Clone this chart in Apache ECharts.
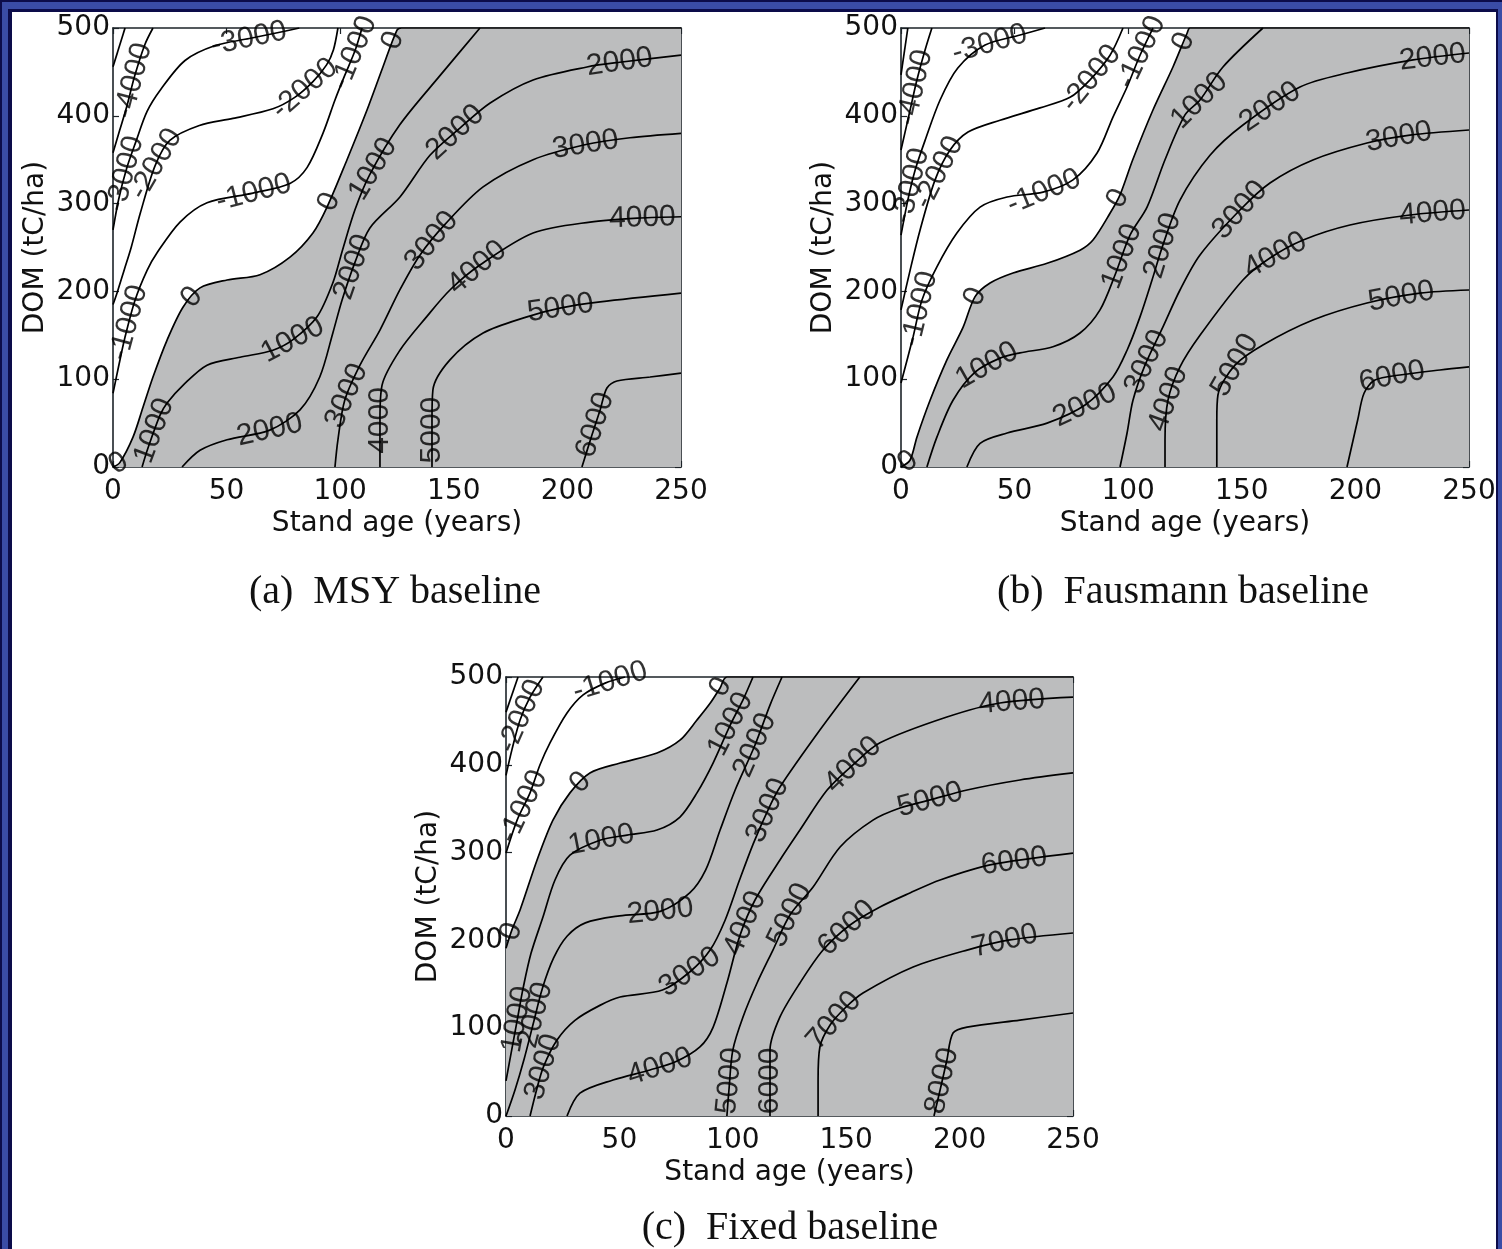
<!DOCTYPE html>
<html style="height: 100%">
<head>
    <meta charset="utf-8">
    <style>
        body { margin: 0; overflow: hidden; background: #0c0c4a; }
        .band { position: absolute; }
    </style>
</head>
<body>
<div class="band" style="left:2px;top:2px;width:1500px;height:1300px;background:#3a4ca6"></div>
<div class="band" style="left:8px;top:9px;width:1490px;height:1300px;background:#0c0c4a"></div>
<div class="band" style="left:12px;top:12px;width:1484px;height:1300px;background:#ffffff"></div>
<div id="container" style="position:absolute;left:0;top:0;width:1502px;height:1249px"></div>
<script type="text/javascript" src="https://cdn.jsdelivr.net/npm/echarts@6.0.0/dist/echarts.min.js"></script>
<script type="text/javascript">
    // (a) MSY baseline: zero contour (edge of the grey area), other contours, label spots [level, age, DOM]
    var msyZero = [[0,0],[3,5],[8.8,34],[13.2,68],[17.6,102.5],[23.8,144.6],[30.8,182],[38.3,204],[50.2,213],[64.7,219],[77.9,239],[88,266.5],[94.2,296],[103,350],[111.8,406.6],[118.8,455.6],[125,497.7],[127,500],[250,500]];
    var msyContours = [
        [-5000, [[0,456],[5.3,500]]],
        [-4000, [[0,358],[3,384],[6,410],[9.5,445],[14,481],[17.6,500]]],
        [-3000, [[0,270],[2.5,305],[6,340],[10,370],[15,405],[21,430],[31.7,463],[45,480],[60,488],[75,496],[82,500]]],
        [-2000, [[0,185],[2,200],[5,225],[8,250],[12,289],[18.5,343],[25,372],[38,389],[52.8,397],[70.4,408],[80,421],[88,439],[94,458],[97,475],[99,500]]],
        [-1000, [[0,84],[2.5,115],[5.3,148],[9.7,190],[15,224],[19.4,244],[29.5,279],[41.4,301],[61.6,312],[77.9,323],[85.4,341],[92.4,380],[97.7,418],[102,446],[106.5,474],[109.6,500]]],
        [1000, [[12.8,0],[15.4,21.6],[20.7,59],[23.8,73],[30.8,93],[41.4,116],[55.9,125],[70.4,133],[79.2,145],[89.8,171],[96.8,210],[101,247],[106.5,293],[113,333],[126.3,390],[144,446],[161.5,500]]],
        [2000, [[30.4,0],[38.3,19],[50.2,31],[69,42],[82.3,65],[91,102.5],[96.8,153],[100.8,190],[106.5,233],[113,272],[126.3,307.5],[139.5,355],[152.7,386],[166,414.6],[184.9,440.8],[208.6,455.6],[223,461],[250,469]]],
        [3000, [[97.7,0],[99,31],[102,76],[108.7,116],[117.5,156],[126.3,202],[135,241],[146,276],[162.9,319],[184.9,350],[207.7,367],[227.5,375],[250,380]]],
        [4000, [[117.5,0],[117.5,53.5],[118.4,93],[126.3,133],[138,171],[148.3,201.6],[161.5,230],[184.9,266.5],[210,279],[232,283.6],[250,285]]],
        [5000, [[140.4,0],[140.4,53.5],[140.8,87.7],[148.3,122],[162.9,152.6],[182.2,171],[196.7,181],[214.4,188],[250,198]]],
        [6000, [[206.4,0],[210.8,36.4],[214.4,65],[217.4,90],[221.8,98],[236.4,102.5],[250,107]]]
    ];
    var msyLabels = [
        [0,2,6],[0,34,195],[0,97,300],[0,124,485],
        [1000,17.5,42],[1000,79,145],[1000,114,340],
        [2000,69,42],[2000,105.5,228],[2000,150,383],[2000,223,461],
        [3000,102,82],[3000,140,258],[3000,208,367],
        [4000,118,53],[4000,160,228],[4000,233,284],
        [5000,140.5,42],[5000,197,181],
        [6000,212,48],
        [-1000,6,165],[-1000,62,312],[-1000,106,472],
        [-2000,19,345],[-2000,84,432],
        [-3000,7,333],[-3000,60,486],
        [-4000,9,440]
    ];

    // (b) Fausmann baseline
    var fausZero = [[0,0],[4,8],[7,34],[12.8,76],[20.2,122],[27.3,159],[32.6,194],[39.2,209.6],[49.3,221],[64.3,232],[78.8,247],[84.5,258.5],[92,289],[96.4,310],[102,350],[110.9,406.6],[119.7,455.6],[125.9,494],[127.2,500],[250,500]];
    var fausContours = [
        [-5000, [[0,446.5],[3,500]]],
        [-4000, [[0,361],[4,406.6],[7,440.8],[10.6,475],[13.6,500]]],
        [-3000, [[0,264],[3,304],[6.2,338],[10.6,372],[17.2,418],[25,454.4],[37,480.6],[52.4,492],[63.4,500]]],
        [-2000, [[0,179],[4,224],[8.4,270],[15,327],[21.6,361],[29.5,381.5],[43.6,395],[61.2,409],[74.4,421],[83.2,441],[92,469],[97.7,500]]],
        [-1000, [[0,95.7],[5.3,148],[9.2,190],[15.8,228],[24.6,266.5],[34.8,296],[46.7,307.5],[62.5,313],[75.7,327],[86.3,357.6],[93.3,398.6],[99.5,432.8],[105.2,469],[110.9,500]]],
        [1000, [[11.4,0],[15.8,34],[22.9,76],[32.6,108],[43.6,124],[52.4,130],[66.9,137],[78.8,152.6],[87.6,179],[94.2,218.7],[100.8,264],[108.3,296],[116.2,350],[125,401],[131.6,418],[141.7,455.6],[159.3,500]]],
        [2000, [[29,0],[34.8,27],[46.7,38.7],[64.3,50],[81,70.6],[93.3,102.5],[99.5,133],[105.2,171],[110.5,213],[115.3,253],[122.8,304],[136,355],[150.5,389.5],[175.6,432.8],[196.3,448.7],[225.4,463.6],[250,471.5]]],
        [3000, [[96.4,0],[99.5,38.7],[102.1,76],[107.4,116],[115.3,159.5],[122.8,201.6],[131.6,241.5],[149.2,292.7],[162.4,323.5],[181.3,349.7],[205.1,369],[224,378],[250,383.8]]],
        [4000, [[116.2,0],[116.2,30.8],[117.5,76],[122.8,114],[131.6,150],[150.5,213],[162.4,238],[177,258.5],[197.6,275.6],[224,287],[250,292.7]]],
        [5000, [[139,0],[139,53.5],[139.5,82],[147,116],[159.3,139],[181.3,167.4],[205.1,186.8],[228.4,198],[250,201.6]]],
        [6000, [[196.3,0],[198.5,25],[201,53.5],[203.8,84],[208.6,99],[219.6,104.8],[237.2,110.5],[250,114]]]
    ];
    var fausLabels = [
        [0,3,6],[0,32,195],[0,96,305],[0,124,485],
        [1000,38,115],[1000,97,240],[1000,131,418],
        [2000,81,70],[2000,114,253],[2000,162,412],[2000,234,466],
        [3000,108,120],[3000,149,293],[3000,219,378],
        [4000,118,77],[4000,165,240],[4000,234,289],
        [5000,147,116],[5000,220,197],
        [6000,216,104],
        [-1000,8,180],[-1000,63,313],[-1000,106,472],
        [-2000,17,335],[-2000,84,442],
        [-3000,5,320],[-3000,39,482],
        [-4000,6.5,432]
    ];

    // (c) Fixed baseline
    var fixedZero = [[0,191],[2.6,212],[6.2,234.6],[13.7,291.6],[20.7,337],[28.2,368],[37,390.7],[50.3,402],[66.6,413.4],[76.7,428],[84.2,451],[90,470],[94.4,487.5],[97.4,500],[250,500]];
    var fixedContours = [
        [-3000, [[0,460],[5.3,500]]],
        [-2000, [[0,388],[2.6,417],[6.2,451],[10.6,477],[16.3,500]]],
        [-1000, [[0,299.5],[4.9,337],[10.6,368],[15,400],[19.4,425],[26.9,459],[34,479.6],[43.7,493],[52.5,500]]],
        [1000, [[0,40],[2.5,75],[5,110],[7.5,145],[11,185],[16.3,226.6],[21.6,268.8],[28.2,297],[41.4,314],[53.4,320],[66.6,325.7],[76.7,340.5],[84.2,368],[91.3,402],[98.8,445],[104.5,474],[108.9,500]]],
        [2000, [[0,0],[4,30],[8,65],[12,105],[16,145],[21,180],[27,205],[35,220],[50,228],[68,233],[81,254],[88,280],[94.4,325.7],[101,371],[109.8,422.6],[116.4,468],[121.7,500]]],
        [3000, [[10.6,0],[13.5,30],[16.5,56],[22.5,86.6],[30.4,109],[41.4,126],[50.3,135.5],[69,143.5],[81,164],[90,189],[96.6,223],[103,269],[109,310],[115.5,348.5],[120.8,374.7],[138.4,439.6],[156,500]]],
        [4000, [[26.9,0],[32.6,26],[47.2,41],[63.5,52.4],[75,62],[85.5,78.6],[91.3,101],[97.4,151.5],[103.2,206],[109.8,246],[120.8,291.6],[129.6,325.7],[141.5,371],[153,400],[164.9,425],[194.4,454.4],[217.8,470.4],[250,477]]],
        [5000, [[97.4,0],[98.3,29.6],[100,75],[104.5,112.8],[110.7,151.5],[117.7,189],[125.2,229],[135.4,260.8],[147.3,306.4],[161.8,337],[173.7,350.8],[187,360],[203.3,371.3],[226.6,382.7],[250,390.7]]],
        [6000, [[116.4,0],[116.4,29.6],[116.4,75],[120.8,112.8],[129.6,151.5],[139.8,189],[151.7,217.5],[164.9,238],[178.1,254],[191.4,268.8],[213.4,286],[250,299.5]]],
        [7000, [[137.6,0],[137.6,41],[138.4,78.6],[142.9,103.6],[149.5,123],[157.4,140],[179.5,169.7],[203.3,189],[222.2,200.5],[250,208.4]]],
        [8000, [[188.7,0],[191.4,29.6],[194.4,63.8],[197.1,94.5],[203.3,101.3],[226.6,109.3],[250,117.3]]]
    ];
    var fixedLabels = [
        [0,2.5,210],[0,32,382],[0,95,488],
        [-1000,8,352],[-1000,46,494],
        [-2000,7,455],
        [1000,5,110],[1000,42,314],[1000,100,445],
        [2000,13,115],[2000,68,233],[2000,110,422],
        [3000,16.5,56],[3000,81,164],[3000,115.5,348],
        [4000,68,55],[4000,105,220],[4000,153,400],[4000,223,472],
        [5000,98.5,40],[5000,125,229],[5000,187,360],
        [6000,116.4,40],[6000,150,215],[6000,224,290],
        [7000,145,108],[7000,220,199],
        [8000,192.5,40]
    ];

    var captions = ['(a)  MSY baseline', '(b)  Fausmann baseline', '(c)  Fixed baseline'];

    var dom = document.getElementById("container");
    var myChart = echarts.init(dom);

    var panels = [
        {zero: msyZero, lines: msyContours, labels: msyLabels},
        {zero: fausZero, lines: fausContours, labels: fausLabels},
        {zero: fixedZero, lines: fixedContours, labels: fixedLabels}
    ];
    var boxes = [
        {left: 113, top: 28, width: 568, height: 439},
        {left: 901, top: 28, width: 568, height: 439},
        {left: 506, top: 677, width: 567, height: 439}
    ];
    var captionPos = [[395, 592], [1183, 592], [790, 1228]];

    var ink = '#111111';
    var axisInk = '#1c2328';
    var grey = '#bcbdbe';
    var sans = 'DejaVu Sans';

    var grids = [], xAxes = [], yAxes = [], series = [], fillIndex = [];

    function frameAxis(i, pos, isX) {
        return {
            gridIndex: i, type: 'value', position: pos,
            min: 0, max: isX ? 250 : 500, interval: isX ? 50 : 100,
            axisLine: {show: true, onZero: false, lineStyle: {color: axisInk, width: 1.6}},
            axisTick: {show: true, inside: true, length: 6, lineStyle: {color: axisInk, width: 1.2}},
            axisLabel: {show: false},
            splitLine: {show: false}
        };
    }

    boxes.forEach(function (b, i) {
        grids.push({left: b.left, top: b.top, width: b.width, height: b.height, containLabel: false, outerBoundsMode: 'none'});

        var bx = frameAxis(i, 'bottom', true);
        bx.axisLabel = {show: true, color: ink, fontSize: 28, fontFamily: sans, margin: 11};
        bx.name = 'Stand age (years)';
        bx.nameLocation = 'middle';
        bx.nameGap = 43;
        bx.nameTextStyle = {color: ink, fontSize: 28, fontFamily: sans};
        xAxes.push(bx, frameAxis(i, 'top', true));

        var ly = frameAxis(i, 'left', false);
        ly.axisLabel = {show: true, color: ink, fontSize: 28, fontFamily: sans, margin: 3};
        ly.name = 'DOM (tC/ha)';
        ly.nameLocation = 'middle';
        ly.nameGap = 63;
        ly.nameTextStyle = {color: ink, fontSize: 28, fontFamily: sans};
        yAxes.push(ly, frameAxis(i, 'right', false));

        var p = panels[i];
        fillIndex[i] = series.length;
        // grey where the value is positive: area under the zero contour
        series.push({
            type: 'line', xAxisIndex: 2 * i, yAxisIndex: 2 * i,
            data: p.zero, smooth: 0.3, symbol: 'none', silent: true,
            lineStyle: {color: '#000', width: 1.7},
            areaStyle: {color: grey, opacity: 1},
            z: 2
        });
        p.lines.forEach(function (c) {
            series.push({
                type: 'line', xAxisIndex: 2 * i, yAxisIndex: 2 * i,
                data: c[1], smooth: 0.3, symbol: 'none', silent: true,
                lineStyle: {color: '#000', width: 1.7},
                z: 3
            });
        });
    });

    var option = {
        animation: false,
        grid: grids,
        xAxis: xAxes,
        yAxis: yAxes,
        series: series,
        graphic: captions.map(function (t, i) {
            return {
                type: 'text', x: captionPos[i][0], y: captionPos[i][1], silent: true,
                style: {
                    text: t, fill: ink, font: '40px "Liberation Serif"',
                    textAlign: 'center', textVerticalAlign: 'middle',
                    align: 'center', verticalAlign: 'middle'
                }
            };
        })
    };
    myChart.setOption(option);

    // put each label on its contour and turn it along the line
    function placeLabel(i, pts, x, y) {
        var finder = {seriesIndex: fillIndex[i]};
        var P = pts.map(function (d) { return myChart.convertToPixel(finder, d); });
        var q = myChart.convertToPixel(finder, [x, y]);
        var best = null;
        for (var k = 0; k < P.length - 1; k++) {
            var a = P[k], b = P[k + 1];
            var dx = b[0] - a[0], dy = b[1] - a[1];
            var len2 = dx * dx + dy * dy || 1;
            var t = ((q[0] - a[0]) * dx + (q[1] - a[1]) * dy) / len2;
            t = Math.max(0, Math.min(1, t));
            var px = a[0] + t * dx, py = a[1] + t * dy;
            var d2 = (q[0] - px) * (q[0] - px) + (q[1] - py) * (q[1] - py);
            if (!best || d2 < best.d2) best = {d2: d2, pt: [px, py], dx: dx, dy: dy};
        }
        var ang = Math.atan2(-best.dy, best.dx) * 180 / Math.PI;
        if (ang > 90) ang -= 180;
        if (ang < -90) ang += 180;
        return {value: myChart.convertFromPixel(finder, best.pt), angle: ang};
    }

    panels.forEach(function (p, i) {
        var data = p.labels.map(function (l) {
            var pts = p.zero;
            if (l[0] !== 0) {
                p.lines.forEach(function (c) { if (c[0] === l[0]) pts = c[1]; });
            }
            var s = placeLabel(i, pts, l[1], l[2]);
            return {value: s.value, label: {formatter: String(l[0]), rotate: s.angle}};
        });
        series.push({
            type: 'scatter', xAxisIndex: 2 * i, yAxisIndex: 2 * i,
            data: data, symbolSize: 1, silent: true,
            itemStyle: {color: 'rgba(0,0,0,0)'},
            label: {show: true, position: 'inside', color: '#000', fontSize: 30, fontFamily: 'Liberation Sans'},
            z: 5
        });
    });
    myChart.setOption({series: series});
</script>
</body>
</html>
